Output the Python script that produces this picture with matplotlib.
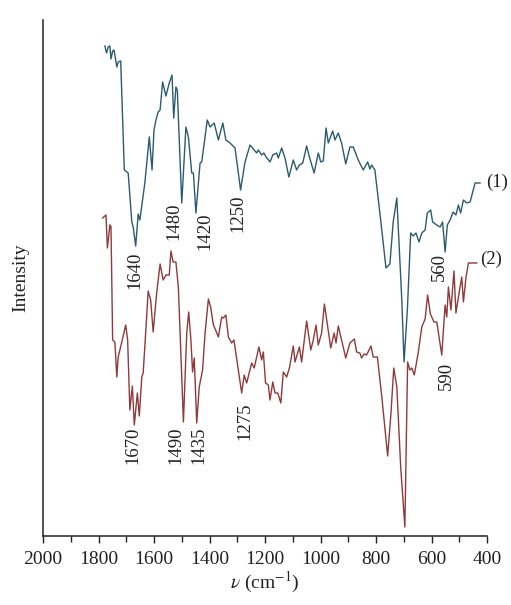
import matplotlib
matplotlib.use("Agg")
import matplotlib.pyplot as plt
from matplotlib.ticker import MultipleLocator

plt.rcParams['font.family'] = ['Liberation Serif', 'DejaVu Serif']
plt.rcParams['mathtext.fontset'] = 'stix'

# Spectrum (1): wavenumber (cm^-1) and intensity (a.u.)
wn1 = [1777, 1771, 1765, 1759, 1755, 1749, 1744, 1734, 1729, 1720,
       1707, 1693, 1680, 1675, 1666, 1657, 1651, 1633, 1617, 1607,
       1600, 1593, 1585, 1578, 1569, 1557, 1545, 1535, 1529, 1521,
       1516, 1500, 1485, 1476, 1464, 1458, 1449, 1434, 1428, 1408,
       1398, 1383, 1368, 1352, 1341, 1326, 1308, 1288, 1272, 1254,
       1230, 1224, 1212, 1204, 1196, 1182, 1172, 1158, 1152, 1140,
       1128, 1114, 1098, 1086, 1076, 1064, 1050, 1040, 1023, 1008,
       999, 990, 980, 972, 956, 948, 936, 924, 909, 894,
       882, 864, 846, 830, 822, 816, 804, 786, 764, 750,
       738, 725, 707, 699, 687, 675, 666, 656, 645, 635,
       623, 615, 603, 596, 581, 569, 560, 551, 543, 533,
       522, 512, 503, 495, 485, 473, 461, 443, 425]
int1 = [490, 483, 489, 490, 477, 485, 486, 469, 474, 475,
        366, 363, 314, 309, 290, 322, 316, 353, 399, 366,
        406, 416, 424, 426, 454, 440, 453, 461, 418, 449,
        446, 333, 409, 399, 363, 363, 323, 373, 374, 416,
        409, 413, 396, 413, 396, 393, 388, 346, 374, 391,
        383, 386, 381, 383, 379, 374, 381, 383, 378, 388,
        378, 359, 376, 366, 371, 373, 390, 379, 363, 383,
        374, 375, 408, 393, 405, 396, 403, 393, 372, 389,
        389, 376, 366, 374, 367, 371, 366, 323, 268, 272,
        314, 338, 236, 174, 226, 303, 300, 303, 294, 303,
        306, 323, 326, 314, 311, 309, 314, 284, 311, 316,
        324, 321, 331, 323, 336, 333, 334, 353, 353]

# Spectrum (2)
wn2 = [1785, 1773, 1768, 1759, 1755, 1749, 1741, 1734, 1729, 1716,
       1702, 1695, 1687, 1678, 1671, 1660, 1653, 1644, 1639, 1630,
       1621, 1612, 1603, 1590, 1578, 1567, 1557, 1545, 1539, 1531,
       1521, 1512, 1494, 1482, 1475, 1467, 1461, 1455, 1446, 1437,
       1425, 1416, 1404, 1396, 1386, 1378, 1368, 1356, 1350, 1341,
       1332, 1320, 1312, 1284, 1275, 1266, 1248, 1239, 1222, 1212,
       1206, 1198, 1188, 1182, 1172, 1164, 1154, 1143, 1134, 1122,
       1112, 1098, 1092, 1076, 1068, 1050, 1035, 1026, 1016, 1008,
       996, 986, 963, 951, 944, 936, 924, 909, 894, 878,
       870, 858, 852, 843, 834, 818, 810, 795, 779, 758,
       746, 736, 725, 711, 696, 686, 678, 671, 662, 648,
       635, 623, 614, 604, 591, 581, 563, 551, 545, 539,
       530, 519, 512, 503, 491, 485, 476, 467, 437]
int2 = [318, 321, 288, 311, 309, 196, 194, 159, 179, 194,
        211, 196, 126, 150, 111, 143, 120, 159, 163, 203,
        245, 236, 204, 244, 272, 256, 261, 261, 285, 274,
        274, 248, 114, 203, 224, 196, 164, 178, 113, 149,
        166, 203, 237, 229, 211, 206, 199, 219, 218, 221,
        199, 193, 196, 143, 161, 153, 173, 168, 189, 176,
        184, 153, 151, 136, 154, 143, 143, 133, 164, 159,
        168, 190, 174, 189, 174, 215, 186, 196, 211, 191,
        203, 232, 188, 203, 193, 210, 196, 178, 193, 197,
        184, 183, 178, 182, 181, 190, 179, 179, 139, 80,
        123, 168, 149, 69, 9, 174, 166, 168, 161, 183,
        209, 217, 241, 222, 214, 214, 181, 231, 219, 249,
        226, 265, 223, 239, 259, 234, 258, 273, 273]

# Peak annotations
peaks1_text = ["1640", "1480", "1420", "1250", "560"]
peaks1_x = [1668, 1528, 1416, 1296, 573]
peaks1_y = [284, 333, 323, 341, 283]
peaks2_text = ["1670", "1490", "1435", "1275", "590"]
peaks2_x = [1676, 1521, 1438, 1272, 548]
peaks2_y = [109, 109, 109, 134, 174]

series_labels = ["(1)", "(2)"]
series_colors = ["#2c5b6f", "#8f3a3b"]
xticks = [2000, 1800, 1600, 1400, 1200, 1000, 800, 600, 400]

fig = plt.figure(figsize=(5.11, 6.05), dpi=100)
ax = fig.add_axes([43/511, 69/605, 444/511, 516/605])

ax.plot(wn1, int1, color=series_colors[0], lw=1.0, solid_joinstyle='round')
ax.plot(wn2, int2, color=series_colors[1], lw=1.0, solid_joinstyle='round')

txt_color = "#222222"
for t, x, y in zip(peaks1_text, peaks1_x, peaks1_y):
    ax.text(x, y, t, rotation=90, ha='center', va='top', fontsize=13.5, color=txt_color)
for t, x, y in zip(peaks2_text, peaks2_x, peaks2_y):
    ax.text(x, y, t, rotation=90, ha='center', va='top', fontsize=13.5, color=txt_color)

ax.text(wn1[-1] - 22, int1[-1] + 1, series_labels[0], ha='left', va='center', fontsize=13.5, color=txt_color)
ax.text(wn2[-1] - 12, int2[-1] + 4, series_labels[1], ha='left', va='center', fontsize=13.5, color=txt_color)

ax.set_xlim(2000, 400)
ax.set_ylim(0, 516)
ax.set_xticks(xticks)
ax.xaxis.set_minor_locator(MultipleLocator(100))
ax.tick_params(axis='x', which='major', direction='out', length=5, width=1, labelsize=14,
               colors=txt_color, pad=6)
ax.tick_params(axis='x', which='minor', direction='out', length=4, width=1, colors=txt_color)
ax.set_yticks([])

for s in ['top', 'right']:
    ax.spines[s].set_visible(False)
for s in ['left', 'bottom']:
    ax.spines[s].set_linewidth(1.1)
    ax.spines[s].set_color(txt_color)

ax.set_xlabel(r"$\nu$ (cm$^{-1}$)", fontsize=14, color=txt_color, labelpad=1)
ax.set_ylabel("Intensity", fontsize=14, color=txt_color, labelpad=10)

fig.savefig("out.png", dpi=100)
